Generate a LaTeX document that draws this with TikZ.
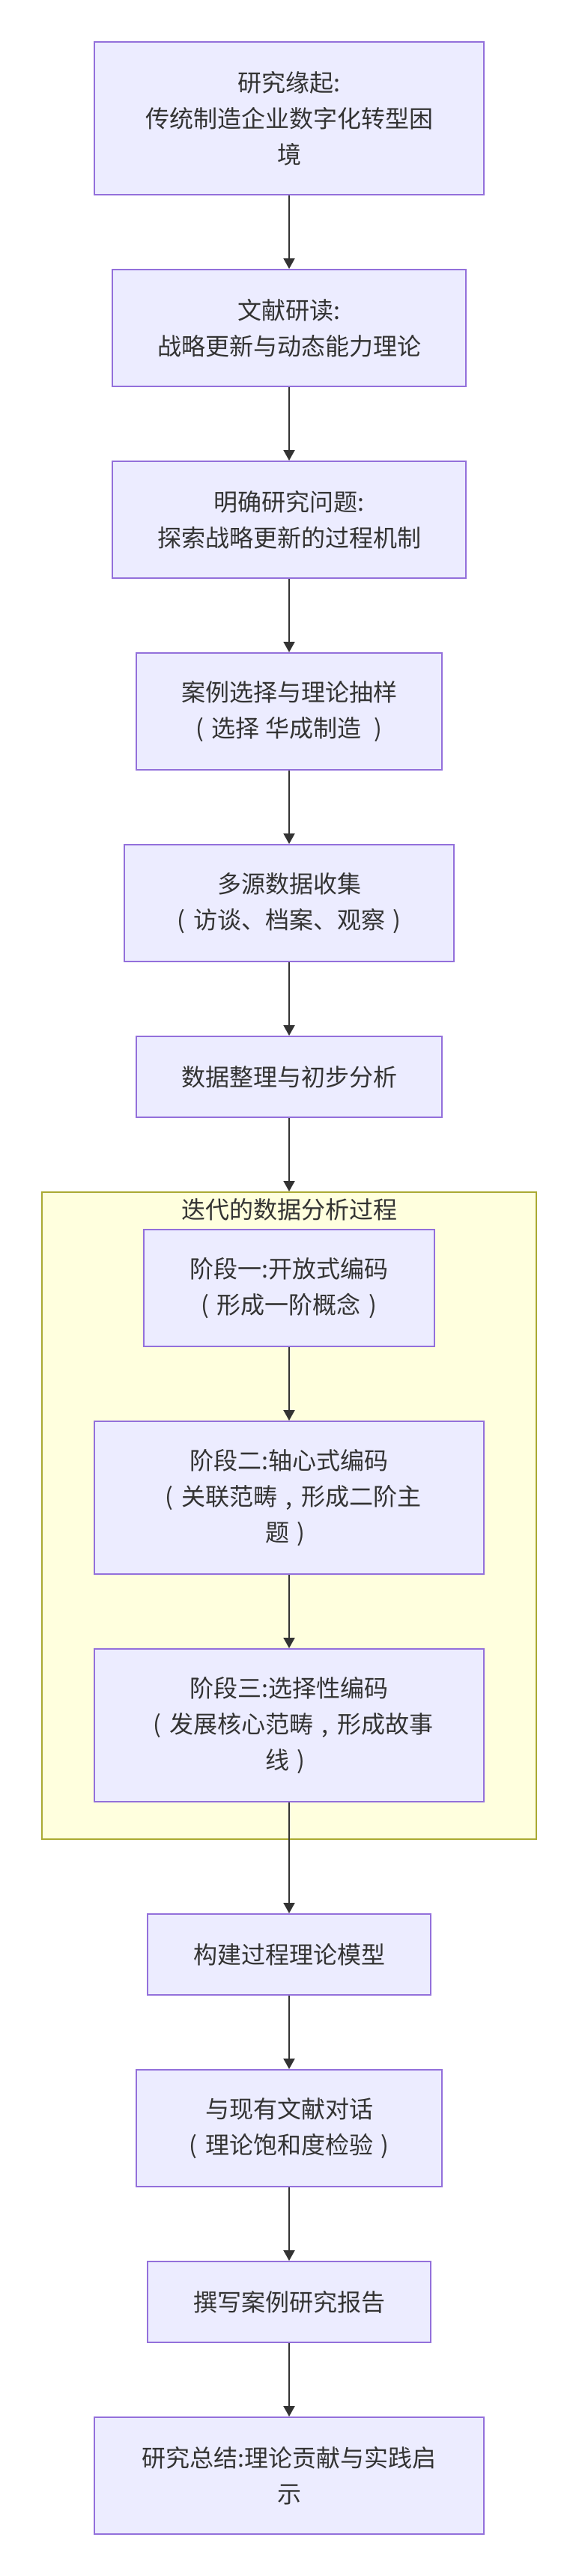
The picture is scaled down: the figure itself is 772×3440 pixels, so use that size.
\documentclass[tikz,border=0pt]{standalone}
\usepackage{fontspec}
\setmainfont{Noto Sans CJK SC}
\usetikzlibrary{arrows.meta}
\definecolor{nodefill}{HTML}{ECECFF}
\definecolor{nodeline}{HTML}{9370DB}
\definecolor{clfill}{HTML}{FFFFDE}
\definecolor{clline}{HTML}{AAAA33}
\definecolor{txt}{HTML}{333333}
\newcommand\mylp{\makebox[1em][c]{(}}
\newcommand\myrp{\makebox[1em][c]{)}}
\newcommand\mycm{\makebox[1em][c]{,}}
\tikzset{
  box/.style={draw=nodeline, fill=nodefill, line width=2pt, rectangle, inner sep=0pt,
    align=center, text=txt, font=\fontsize{32}{48}\selectfont},
  cluster/.style={draw=clline, fill=clfill, line width=2pt, rectangle, inner sep=0pt},
  cltitle/.style={text=txt, font=\fontsize{32}{48}\selectfont, inner sep=0pt},
  flow/.style={draw=txt, line width=2pt, -{Triangle[length=14pt,width=15pt]}}
}
\begin{document}
\begin{tikzpicture}[x=1pt,y=-1pt]
\useasboundingbox (0,0) rectangle (772,3440);
\node[cluster, minimum width=660pt, minimum height=864pt] (cl) at (386,2024) {};
\node[cltitle] (clt) at (386,1615) {迭代的数据分析过程};

\node[box, minimum width=520pt, minimum height=204pt] (n1) at (386,158) {研究缘起:\\传统制造企业数字化转型困\\境};
\node[box, minimum width=472pt, minimum height=156pt] (n2) at (386,438) {文献研读:\\战略更新与动态能力理论};
\node[box, minimum width=472pt, minimum height=156pt] (n3) at (386,694) {明确研究问题:\\探索战略更新的过程机制};
\node[box, minimum width=408pt, minimum height=156pt] (n4) at (386,950) {案例选择与理论抽样\\\mylp 选择 华成制造 \myrp};
\node[box, minimum width=440pt, minimum height=156pt] (n5) at (386,1206) {多源数据收集\\\mylp 访谈、档案、观察\myrp};
\node[box, minimum width=408pt, minimum height=108pt] (n6) at (386,1438) {数据整理与初步分析};
\node[box, minimum width=388pt, minimum height=156pt] (s1) at (386,1720) {阶段一:开放式编码\\\mylp 形成一阶概念\myrp};
\node[box, minimum width=520pt, minimum height=204pt] (s2) at (386,2000) {阶段二:轴心式编码\\\mylp 关联范畴\mycm 形成二阶主\\题\myrp};
\node[box, minimum width=520pt, minimum height=204pt] (s3) at (386,2304) {阶段三:选择性编码\\\mylp 发展核心范畴\mycm 形成故事\\线\myrp};
\node[box, minimum width=378pt, minimum height=108pt] (n7) at (386,2610) {构建过程理论模型};
\node[box, minimum width=408pt, minimum height=156pt] (n8) at (386,2842) {与现有文献对话\\\mylp 理论饱和度检验\myrp};
\node[box, minimum width=378pt, minimum height=108pt] (n9) at (386,3074) {撰写案例研究报告};
\node[box, minimum width=520pt, minimum height=156pt] (n10) at (386,3306) {研究总结:理论贡献与实践启\\示};

\draw[flow] (n1) -- (n2);
\draw[flow] (n2) -- (n3);
\draw[flow] (n3) -- (n4);
\draw[flow] (n4) -- (n5);
\draw[flow] (n5) -- (n6);
\draw[flow] (n6) -- (cl.north);
\draw[flow] (s1) -- (s2);
\draw[flow] (s2) -- (s3);
\draw[flow] (s3) -- (n7);
\draw[flow] (n7) -- (n8);
\draw[flow] (n8) -- (n9);
\draw[flow] (n9) -- (n10);
\end{tikzpicture}
\end{document}
